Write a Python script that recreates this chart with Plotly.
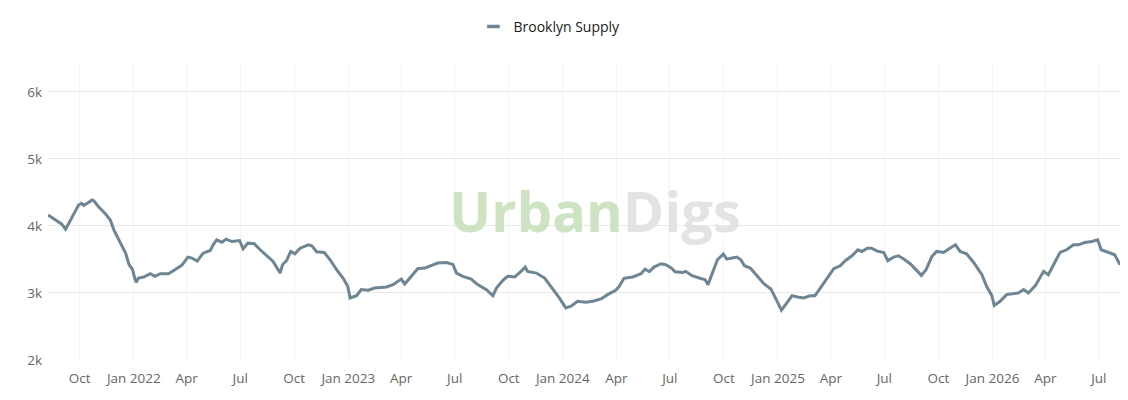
import pandas as pd
import plotly.graph_objects as go

# Brooklyn supply
dates = [
    "2021-08-08", "2021-08-21", "2021-08-31", "2021-09-07", "2021-09-12", "2021-09-21", "2021-09-29",
    "2021-10-04", "2021-10-08", "2021-10-14", "2021-10-22", "2021-10-25", "2021-11-02", "2021-11-14",
    "2021-11-22", "2021-11-28", "2021-12-06", "2021-12-18", "2021-12-24", "2021-12-30",
    "2022-01-02", "2022-01-05", "2022-01-09", "2022-01-18", "2022-01-29", "2022-02-06", "2022-02-15",
    "2022-03-01", "2022-03-12", "2022-03-24", "2022-04-03", "2022-04-10", "2022-04-19", "2022-04-29",
    "2022-05-11", "2022-05-16", "2022-05-22", "2022-05-31", "2022-06-07", "2022-06-17", "2022-06-30",
    "2022-07-06", "2022-07-14", "2022-07-25", "2022-08-04", "2022-08-15", "2022-08-26", "2022-09-07",
    "2022-09-11", "2022-09-18", "2022-09-25", "2022-10-02", "2022-10-11", "2022-10-25", "2022-10-31",
    "2022-11-08", "2022-11-21", "2022-12-01", "2022-12-12", "2022-12-23", "2022-12-31",
    "2023-01-04", "2023-01-15", "2023-01-23", "2023-02-04", "2023-02-15", "2023-02-26", "2023-03-07",
    "2023-03-18", "2023-03-27", "2023-04-01", "2023-04-07", "2023-04-18", "2023-04-29", "2023-05-11",
    "2023-05-22", "2023-06-02", "2023-06-17", "2023-06-28", "2023-07-04", "2023-07-15", "2023-07-29",
    "2023-08-09", "2023-08-24", "2023-09-04", "2023-09-10", "2023-09-21", "2023-09-29", "2023-10-11",
    "2023-10-22", "2023-10-29", "2023-11-02", "2023-11-17", "2023-12-01", "2023-12-12", "2023-12-26",
    "2024-01-06", "2024-01-15", "2024-01-26", "2024-02-09", "2024-02-21", "2024-02-24", "2024-03-06",
    "2024-03-17", "2024-03-31", "2024-04-06", "2024-04-14", "2024-04-29", "2024-05-13", "2024-05-20",
    "2024-05-27", "2024-06-04", "2024-06-16", "2024-06-24", "2024-07-04", "2024-07-10", "2024-07-23",
    "2024-07-28", "2024-08-08", "2024-08-20", "2024-08-30", "2024-09-04", "2024-09-10", "2024-09-20",
    "2024-09-30", "2024-10-06", "2024-10-15", "2024-10-23", "2024-10-30", "2024-11-05", "2024-11-15",
    "2024-11-27", "2024-12-08", "2024-12-20", "2024-12-28",
    "2025-01-03", "2025-01-07", "2025-01-14", "2025-01-25", "2025-02-03", "2025-02-14", "2025-02-25",
    "2025-03-05", "2025-03-17", "2025-03-28", "2025-04-06", "2025-04-17", "2025-04-26", "2025-05-07",
    "2025-05-17", "2025-05-24", "2025-06-02", "2025-06-09", "2025-06-19", "2025-06-30", "2025-07-07",
    "2025-07-17", "2025-07-25", "2025-08-03", "2025-08-14", "2025-08-25", "2025-09-02", "2025-09-10",
    "2025-09-20", "2025-09-28", "2025-10-10", "2025-10-18", "2025-10-30", "2025-11-07", "2025-11-18",
    "2025-11-30", "2025-12-14", "2025-12-22", "2025-12-31",
    "2026-01-04", "2026-01-14", "2026-01-25", "2026-02-03", "2026-02-14", "2026-02-23", "2026-03-03",
    "2026-03-15", "2026-03-29", "2026-04-06", "2026-04-15", "2026-04-26", "2026-05-07", "2026-05-19",
    "2026-05-27", "2026-06-07", "2026-06-19", "2026-06-29", "2026-07-05", "2026-07-17", "2026-07-28",
    "2026-08-06",
]
supply = [
    4163, 4089, 4030, 3950, 4030, 4163, 4312,
    4337, 4307, 4337, 4386, 4376, 4287, 4178,
    4089, 3941, 3792, 3594, 3421, 3347,
    3238, 3158, 3223, 3238, 3287, 3248, 3287,
    3287, 3347, 3416, 3535, 3520, 3475, 3594,
    3634, 3718, 3792, 3757, 3802, 3767, 3782,
    3658, 3743, 3733, 3644, 3564, 3470, 3297,
    3421, 3485, 3619, 3584, 3668, 3718, 3703,
    3614, 3604, 3495, 3347, 3223, 3099,
    2926, 2960, 3050, 3040, 3074, 3084, 3089,
    3124, 3173, 3208, 3134, 3248, 3361, 3371,
    3406, 3446, 3455, 3426, 3297, 3248, 3208,
    3124, 3050, 2960, 3074, 3188, 3248, 3238,
    3322, 3386, 3322, 3297, 3223, 3099, 2926,
    2777, 2802, 2876, 2861, 2876, 2886, 2911,
    2975, 3040, 3099, 3218, 3238, 3287, 3356,
    3317, 3386, 3436, 3421, 3371, 3317, 3307,
    3322, 3257, 3223, 3198, 3124, 3272, 3495,
    3579, 3505, 3520, 3535, 3495, 3406, 3371,
    3257, 3139, 3060, 2926,
    2827, 2743, 2827, 2960, 2941, 2926, 2960,
    2960, 3109, 3248, 3361, 3406, 3485, 3554,
    3644, 3619, 3668, 3668, 3624, 3604, 3480,
    3535, 3554, 3505, 3436, 3337, 3262, 3347,
    3545, 3619, 3604, 3653, 3718, 3619, 3584,
    3455, 3272, 3099, 2960,
    2812, 2876, 2975, 2990, 3000, 3050, 3000,
    3109, 3322, 3272, 3421, 3604, 3644, 3718,
    3718, 3752, 3767, 3792, 3644, 3609, 3569,
    3421,
]

tick_dates = pd.date_range("2021-10-01", "2026-07-01", freq="QS")
tick_text = [d.strftime("%b %Y") if d.month == 1 else d.strftime("%b") for d in tick_dates]

line_color = "#6E8593"

fig = go.Figure()
fig.add_trace(go.Scatter(x=pd.to_datetime(dates), y=supply, mode="lines",
                         line=dict(color=line_color, width=3), showlegend=False,
                         legendgroup="bk", name="Brooklyn Supply"))
# legend entry drawn as a short dash like the original
fig.add_trace(go.Scatter(x=[None], y=[None], mode="markers", name="Brooklyn Supply",
                         legendgroup="bk",
                         marker=dict(symbol="line-ew", size=9, color=line_color,
                                     line=dict(color=line_color, width=3.5))))

fig.add_annotation(x=0.51, y=0.505, xref="paper", yref="paper", showarrow=False,
                   text="<b><span style='color:#cde3c2'>Urban</span>"
                        "<span style='color:#e3e3e3'>Digs</span></b>",
                   font=dict(family="Open Sans", size=56))

# page body adds 8px offset, margins account for it
fig.update_layout(
    width=1128, height=400,
    margin=dict(l=40, r=16, t=55, b=48),
    plot_bgcolor="white", paper_bgcolor="white",
    font=dict(family="Open Sans", size=13, color="#666666"),
    legend=dict(orientation="h", x=0.480, xanchor="center", xref="container",
                y=1 - 19 / 400, yanchor="middle", yref="container",
                font=dict(size=14, color="#1a1a1a"), itemwidth=30),
    xaxis=dict(range=["2021-08-08", "2026-08-06"], tickvals=tick_dates, ticktext=tick_text,
               showgrid=True, gridcolor="#f4f4f4", showline=False, zeroline=False,
               ticks="", ticklabelstandoff=8, tickfont=dict(size=13.5, color="#666666")),
    yaxis=dict(range=[2000, 6430], tickvals=[2000, 3000, 4000, 5000, 6000],
               ticktext=["2k", "3k", "4k", "5k", "6k"], showgrid=True, gridcolor="#e9e9e9",
               zeroline=False, ticks="", ticklabelstandoff=5,
               tickfont=dict(size=13.5, color="#666666")),
)

fig.write_html("out.html")
